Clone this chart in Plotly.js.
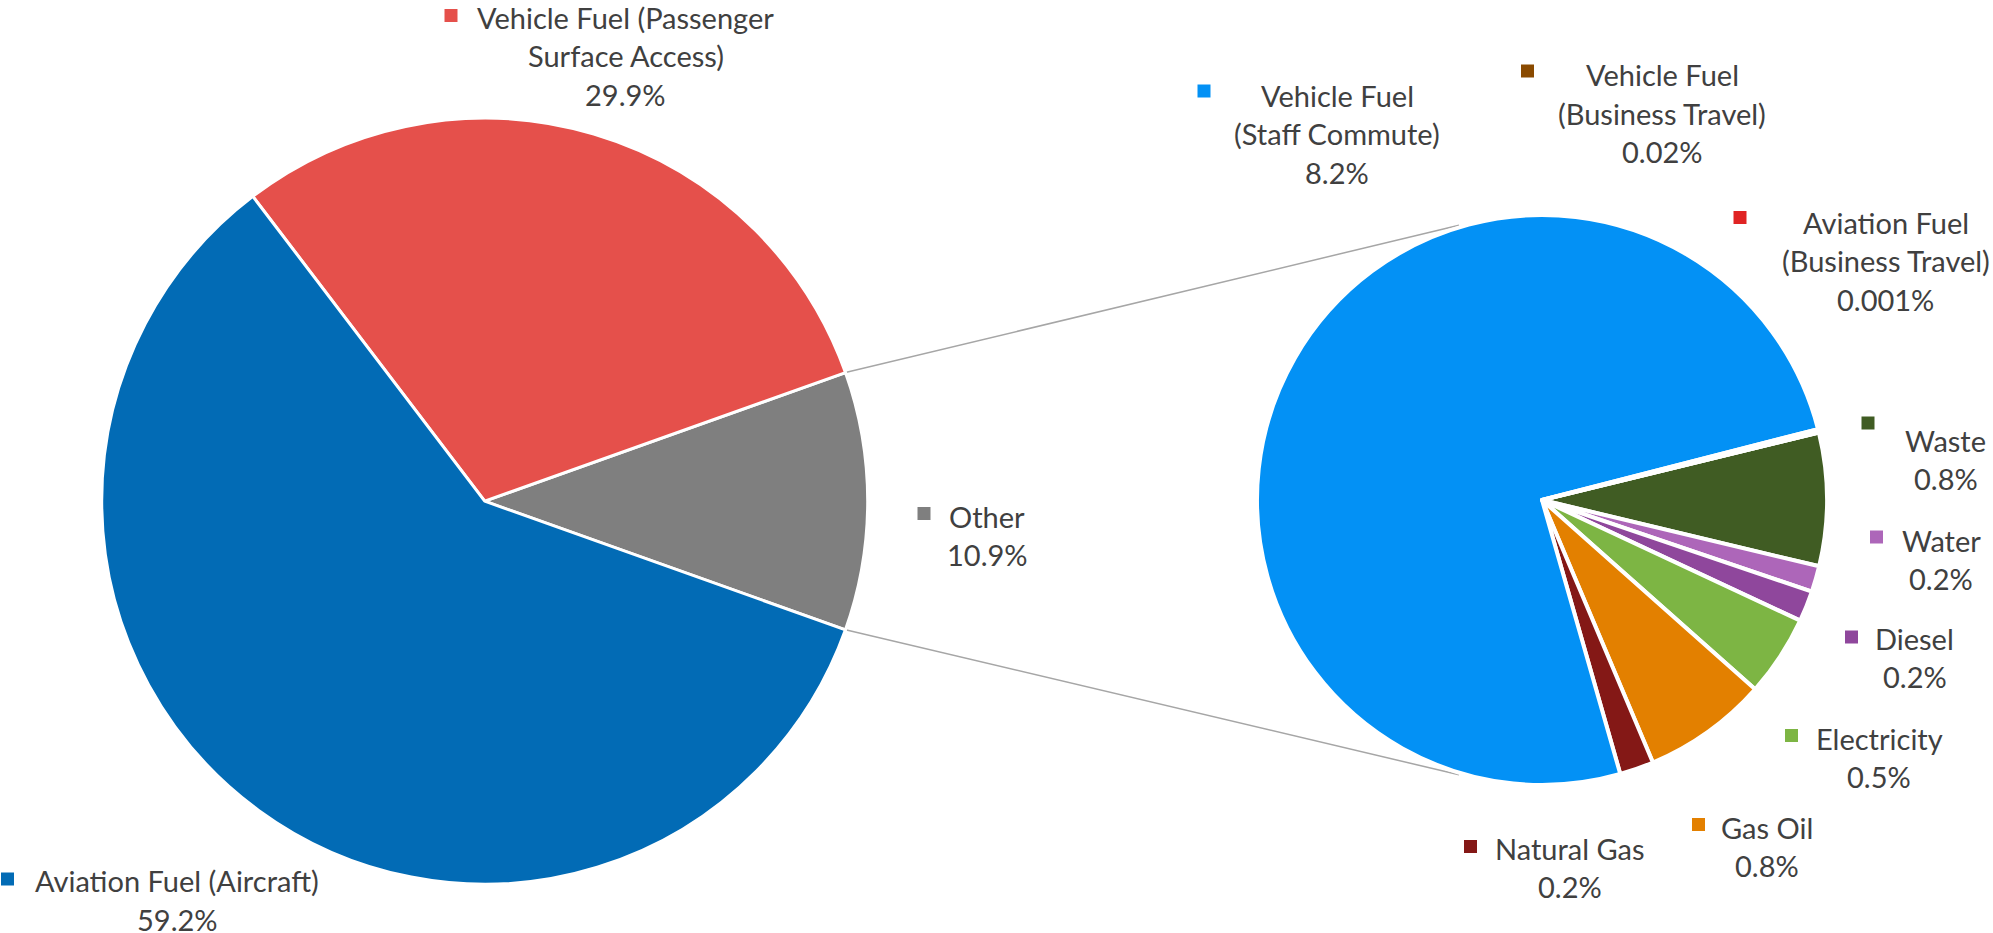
<!DOCTYPE html>
<html>
<head>
<meta charset="utf-8">
<script src="https://cdn.plot.ly/plotly-3.0.1.min.js"></script>
<style>
  html, body { margin: 0; padding: 0; background: #ffffff; }
  #chart { width: 1993px; height: 933px; }
</style>
</head>
<body>
<div id="chart"></div>
<script>
// ---------------- DATA ----------------
// Main pie (share of total, %)
const mainCategories = ['Other', 'Vehicle Fuel (Passenger Surface Access)', 'Aviation Fuel (Aircraft)'];
const mainValues = [10.9, 29.9, 59.2];
const mainValueLabels = ['10.9%', '29.9%', '59.2%'];
const mainNameLines = [['Other'], ['Vehicle Fuel (Passenger', 'Surface Access)'], ['Aviation Fuel (Aircraft)']];

// Breakdown of "Other" (share of total, %)
const subCategories = ['Waste', 'Water', 'Diesel', 'Electricity', 'Gas Oil', 'Natural Gas',
  'Vehicle Fuel (Staff Commute)', 'Vehicle Fuel (Business Travel)', 'Aviation Fuel (Business Travel)'];
const subValues = [0.82, 0.16, 0.19, 0.5, 0.77, 0.21, 8.2, 0.02, 0.001];
const subValueLabels = ['0.8%', '0.2%', '0.2%', '0.5%', '0.8%', '0.2%', '8.2%', '0.02%', '0.001%'];
const subNameLines = [['Waste'], ['Water'], ['Diesel'], ['Electricity'], ['Gas Oil'], ['Natural Gas'],
  ['Vehicle Fuel', '(Staff Commute)'], ['Vehicle Fuel', '(Business Travel)'], ['Aviation Fuel', '(Business Travel)']];

// ---------------- STYLE / LAYOUT ----------------
const mainColors = ['#7f7f7f', '#e5504b', '#026bb5'];
const subColors = ['#405c23', '#ad66b9', '#8f479c', '#7db544', '#e38000', '#841816', '#0391f5', '#8a4a00', '#e02424'];

const W = 1993, H = 933;
const LEFT = { cx: 484.7, cy: 501.2, r: 383 };
const RIGHT = { cx: 1542, cy: 500, r: 285 };
const RIGHT_START_DEG = 13.7;     // upper edge of first breakdown slice, above east
const CONNECT_DEG = 106.8;        // where connector lines meet the breakdown pie
const LINE_GAP = 38.5;            // spacing of label lines (px)
const TEXT_DY = 0;                // vertical nudge of label text (px)
const KEY = 13;                   // legend key square size (px)

// label placement (px): [centre x of text, centre y of first line, key centre x, key centre y]
const mainLabelPos = [[987, 516, 924, 513.5], [625.7, 17.5, 451, 15.5], [177, 880.5, 7.5, 879]];
const subLabelPos = [
  [1945.5, 440, 1868, 423], [1941, 540, 1876.5, 537], [1914.5, 638, 1851.5, 637],
  [1879, 738, 1791.5, 735.5], [1767, 827, 1698.5, 824.5], [1570, 848, 1470.5, 846.5],
  [1337, 95, 1204, 91], [1662, 75, 1527.5, 71], [1885.5, 222, 1740, 217.5]
];

const px = x => x / W;
const py = y => 1 - y / H;
function domainOf(p) {
  return { x: [px(p.cx - p.r), px(p.cx + p.r)], y: [py(p.cy + p.r), py(p.cy - p.r)] };
}

const mainTotal = mainValues.reduce((a, b) => a + b, 0);
const otherHalfDeg = mainValues[0] / mainTotal * 180;

const traces = [
  {
    // counterclockwise: first slice ("Other") sits clockwise of the rotation angle
    type: 'pie', sort: false, direction: 'counterclockwise',
    rotation: 90 - otherHalfDeg,
    labels: mainCategories, values: mainValues,
    marker: { colors: mainColors, line: { color: '#ffffff', width: 3 } },
    textinfo: 'none', hoverinfo: 'label+percent', showlegend: false,
    domain: domainOf(LEFT)
  },
  {
    type: 'pie', sort: false, direction: 'clockwise',
    rotation: 90 - RIGHT_START_DEG,
    labels: subCategories, values: subValues,
    marker: { colors: subColors, line: { color: '#ffffff', width: 4 } },
    textinfo: 'none', hoverinfo: 'label+value', showlegend: false,
    domain: domainOf(RIGHT)
  }
];

const annotations = [];
const shapes = [];
const font = { family: 'Lato, "Open Sans", sans-serif', size: 29, color: '#404040' };

function addLabel(lines, valueText, pos, color) {
  const all = lines.concat([valueText]);
  all.forEach((t, i) => {
    annotations.push({
      xref: 'paper', yref: 'paper', x: px(pos[0]), y: py(pos[1] + i * LINE_GAP + TEXT_DY),
      xanchor: 'center', yanchor: 'middle', text: t, showarrow: false, font: font, borderpad: 0
    });
  });
  shapes.push({
    type: 'rect', xref: 'paper', yref: 'paper',
    x0: px(pos[2] - KEY / 2), x1: px(pos[2] + KEY / 2),
    y0: py(pos[3] + KEY / 2), y1: py(pos[3] - KEY / 2),
    fillcolor: color, line: { width: 0 }
  });
}
mainCategories.forEach((c, i) => addLabel(mainNameLines[i], mainValueLabels[i], mainLabelPos[i], mainColors[i]));
subCategories.forEach((c, i) => addLabel(subNameLines[i], subValueLabels[i], subLabelPos[i], subColors[i]));

// connector lines from edges of "Other" slice to the breakdown pie
[1, -1].forEach(s => {
  const a1 = s * otherHalfDeg * Math.PI / 180;
  const a2 = s * CONNECT_DEG * Math.PI / 180;
  shapes.push({
    type: 'line', xref: 'paper', yref: 'paper', layer: 'below',
    x0: px(LEFT.cx + LEFT.r * Math.cos(a1)), y0: py(LEFT.cy - LEFT.r * Math.sin(a1)),
    x1: px(RIGHT.cx + (RIGHT.r + 2) * Math.cos(a2)), y1: py(RIGHT.cy - (RIGHT.r + 2) * Math.sin(a2)),
    line: { color: '#a6a6a6', width: 1.5 }
  });
});

const layout = {
  width: W, height: H,
  margin: { l: 0, r: 0, t: 0, b: 0, pad: 0 },
  paper_bgcolor: '#ffffff', plot_bgcolor: '#ffffff',
  showlegend: false,
  font: font,
  annotations: annotations,
  shapes: shapes
};

Plotly.newPlot('chart', traces, layout, { displayModeBar: false, staticPlot: true });
</script>
</body>
</html>
